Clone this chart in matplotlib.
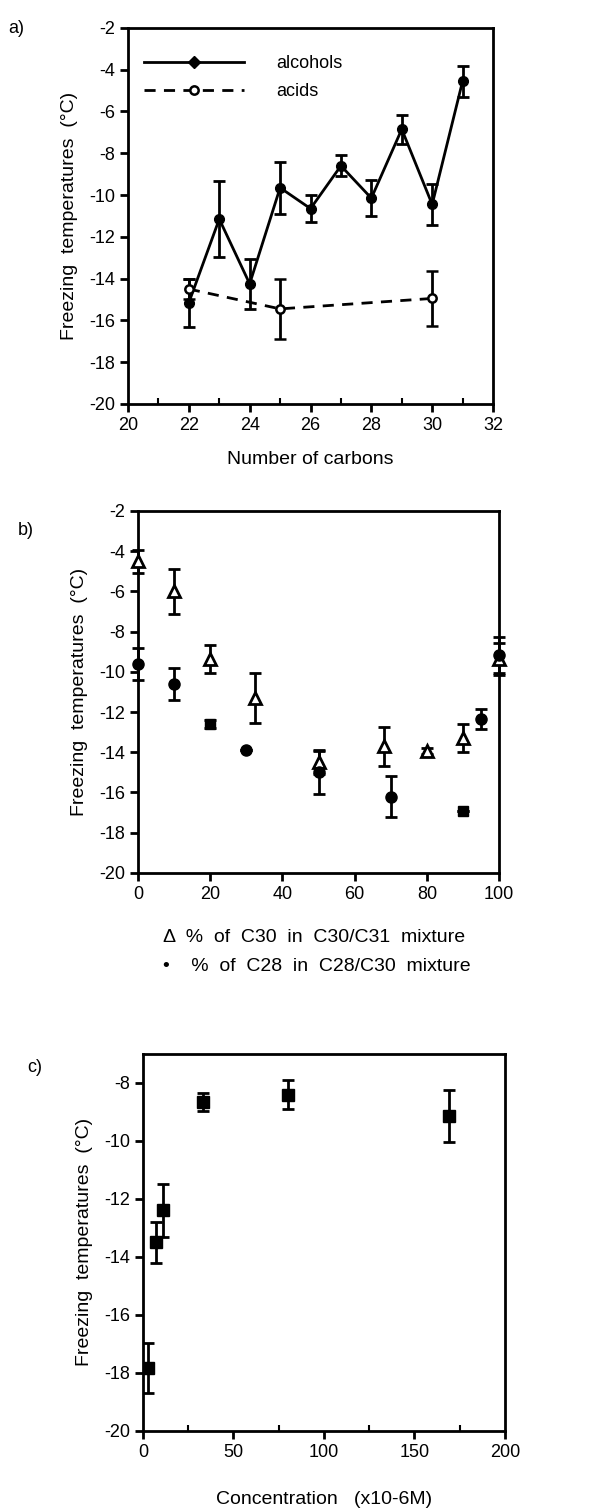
import matplotlib
matplotlib.use("Agg")
import matplotlib.pyplot as plt
from matplotlib.ticker import MultipleLocator
from matplotlib.lines import Line2D

plt.rcParams['font.family'] = ['Liberation Sans', 'DejaVu Sans']
plt.rcParams['axes.unicode_minus'] = False

# ---- Panel a data ----
alc_carbons = [22, 23, 24, 25, 26, 27, 28, 29, 30, 31]
alc_temp = [-15.15, -11.15, -14.25, -9.65, -10.65, -8.6, -10.15, -6.85, -10.45, -4.55]
alc_err = [1.15, 1.8, 1.2, 1.25, 0.65, 0.5, 0.85, 0.7, 1.0, 0.75]

acid_carbons = [22, 25, 30]
acid_temp = [-14.5, -15.45, -14.95]
acid_err = [0.5, 1.45, 1.3]

# ---- Panel b data ----
c30_pct = [0, 10, 20, 32.5, 50, 68, 80, 90, 100]
c30_temp = [-4.5, -6.0, -9.35, -11.3, -14.5, -13.7, -13.95, -13.3, -9.35]
c30_err = [0.58, 1.1, 0.7, 1.23, 0.6, 0.97, 0.15, 0.7, 0.8]

c28_pct = [0, 10, 20, 30, 50, 70, 90, 95, 100]
c28_temp = [-9.6, -10.6, -12.6, -13.9, -15.0, -16.2, -16.9, -12.35, -9.15]
c28_err = [0.8, 0.8, 0.2, 0.0, 1.05, 1.0, 0.0, 0.5, 0.9]
c28_markers = ['o', 'o', 's', 'o', 'o', 'o', 's', 'o', 'o']

# ---- Panel c data ----
conc = [3, 7, 11, 33, 80, 169]
conc_temp = [-17.85, -13.5, -12.4, -8.65, -8.4, -9.15]
conc_err = [0.86, 0.7, 0.9, 0.32, 0.5, 0.9]

fig = plt.figure(figsize=(6.03, 15.10), dpi=100)

TICK_FS = 13
LABEL_FS = 14
SPINE_LW = 2.0


def style_axes(ax):
    for s in ax.spines.values():
        s.set_linewidth(SPINE_LW)
    ax.tick_params(which='major', direction='out', length=6, width=2,
                   labelsize=TICK_FS)
    ax.tick_params(which='minor', direction='in', length=4, width=1.5)


# ---------- Panel a ----------
ax1 = fig.add_axes([0.2123, 0.7325, 0.6053, 0.249])
ax1.errorbar(alc_carbons, alc_temp, yerr=alc_err, color='black', lw=2,
             marker='o', ms=7, mfc='black', capsize=4, capthick=2,
             elinewidth=2, label='alcohols')
ax1.errorbar(acid_carbons, acid_temp, yerr=acid_err, color='black', lw=2,
             ls='--', dashes=(4, 3), marker='o', ms=6, mfc='white', mew=1.8,
             capsize=4, capthick=2, elinewidth=2, label='acids')
ax1.set_xlim(20, 32)
ax1.set_ylim(-20, -2)
ax1.xaxis.set_major_locator(MultipleLocator(2))
ax1.xaxis.set_minor_locator(MultipleLocator(1))
ax1.yaxis.set_major_locator(MultipleLocator(2))
style_axes(ax1)
ax1.set_xlabel('Number of carbons', fontsize=LABEL_FS, labelpad=12)
ax1.set_ylabel('Freezing  temperatures  (°C)', fontsize=LABEL_FS, labelpad=8)
h_alc = Line2D([], [], color='black', lw=2, marker='D', ms=6)
h_acid = Line2D([], [], color='black', lw=2, ls='--', dashes=(4, 3),
                marker='o', ms=6, mfc='white', mew=1.8)
ax1.legend([h_alc, h_acid], ['alcohols', 'acids'], loc='upper left',
           bbox_to_anchor=(0.0, 0.97), frameon=False, handlelength=5.5,
           fontsize=13, handletextpad=1.8, labelspacing=0.6)
fig.text(0.013, 0.987, 'a)', fontsize=13, va='top')

# ---------- Panel b ----------
ax2 = fig.add_axes([0.2289, 0.4219, 0.5987, 0.2397])
ax2.errorbar(c30_pct, c30_temp, yerr=c30_err, fmt='none', ecolor='black',
             elinewidth=2, capsize=4, capthick=2, clip_on=False)
ax2.plot(c30_pct, c30_temp, ls='none', marker='^', ms=9, mfc='white',
         mec='black', mew=2, clip_on=False, zorder=3)
ax2.errorbar(c28_pct, c28_temp, yerr=c28_err, fmt='none', ecolor='black',
             elinewidth=2, capsize=4, capthick=2, clip_on=False)
for xv, yv, mk in zip(c28_pct, c28_temp, c28_markers):
    ax2.plot([xv], [yv], ls='none', marker=mk, ms=8 if mk == 'o' else 7,
             color='black', clip_on=False, zorder=3)
ax2.set_xlim(0, 100)
ax2.set_ylim(-20, -2)
ax2.xaxis.set_major_locator(MultipleLocator(20))
ax2.yaxis.set_major_locator(MultipleLocator(2))
style_axes(ax2)
ax2.set_ylabel('Freezing  temperatures  (°C)', fontsize=LABEL_FS, labelpad=8)
fig.text(0.27, 0.379, 'Δ  %  of  C30  in  C30/C31  mixture', fontsize=14,
         va='center', ha='left')
fig.text(0.27, 0.360, '•    %  of  C28  in  C28/C30  mixture', fontsize=14,
         va='center', ha='left')
fig.text(0.03, 0.649, 'b)', fontsize=13, va='center')

# ---------- Panel c ----------
ax3 = fig.add_axes([0.2371, 0.0525, 0.6003, 0.2495])
ax3.errorbar(conc, conc_temp, yerr=conc_err, fmt='s', color='black', ms=8,
             elinewidth=2, capsize=4, capthick=2)
ax3.set_xlim(0, 200)
ax3.set_ylim(-20, -7)
ax3.xaxis.set_major_locator(MultipleLocator(50))
ax3.xaxis.set_minor_locator(MultipleLocator(25))
ax3.yaxis.set_major_locator(MultipleLocator(2))
style_axes(ax3)
ax3.set_xlabel('Concentration   (x10-6M)', fontsize=LABEL_FS, labelpad=22)
ax3.set_ylabel('Freezing  temperatures  (°C)', fontsize=LABEL_FS, labelpad=8)
fig.text(0.045, 0.293, 'c)', fontsize=13, va='center')

fig.savefig('out.png', dpi=100)
